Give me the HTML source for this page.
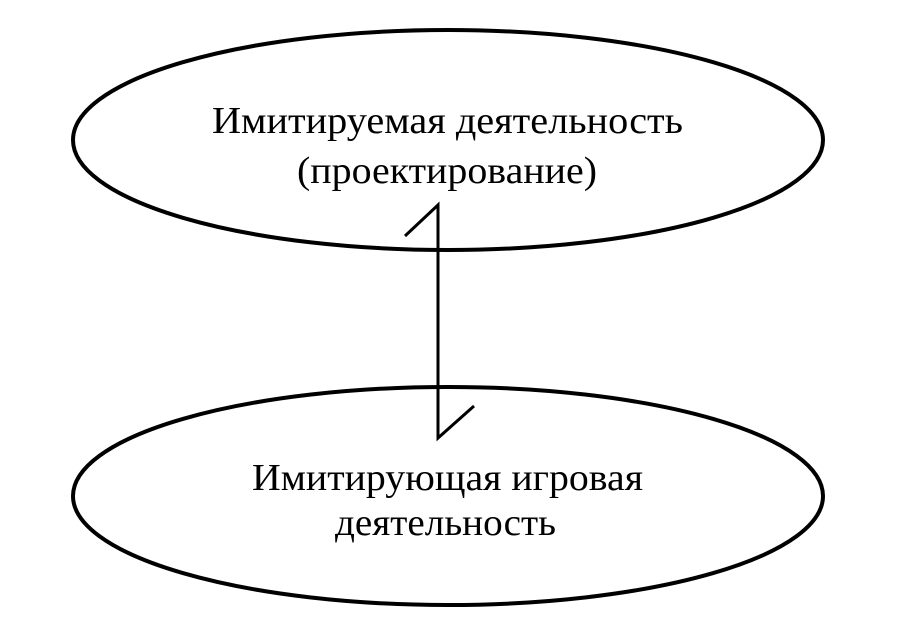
<!DOCTYPE html>
<html><head><meta charset="utf-8"><style>html,body{margin:0;padding:0;background:#fff}</style></head>
<body>
<svg width="906" height="629" viewBox="0 0 906 629" xmlns="http://www.w3.org/2000/svg">
<g fill="none" stroke="#000" stroke-width="4">
<ellipse cx="448" cy="140" rx="375" ry="110"/>
<ellipse cx="448" cy="496" rx="375" ry="109"/>
</g>
<g fill="none" stroke="#000" stroke-width="3">
<polyline points="405,236 438,205 438,438 474,406"/>
</g>
<g font-family="'Liberation Serif', serif" font-size="38" fill="#000">
<text x="212" y="133" textLength="471" lengthAdjust="spacingAndGlyphs">Имитируемая деятельность</text>
<text x="297" y="183" textLength="300" lengthAdjust="spacingAndGlyphs">(проектирование)</text>
<text x="252" y="490" textLength="391" lengthAdjust="spacingAndGlyphs">Имитирующая игровая</text>
<text x="335" y="535" textLength="221" lengthAdjust="spacingAndGlyphs">деятельность</text>
</g>
</svg>
</body></html>
